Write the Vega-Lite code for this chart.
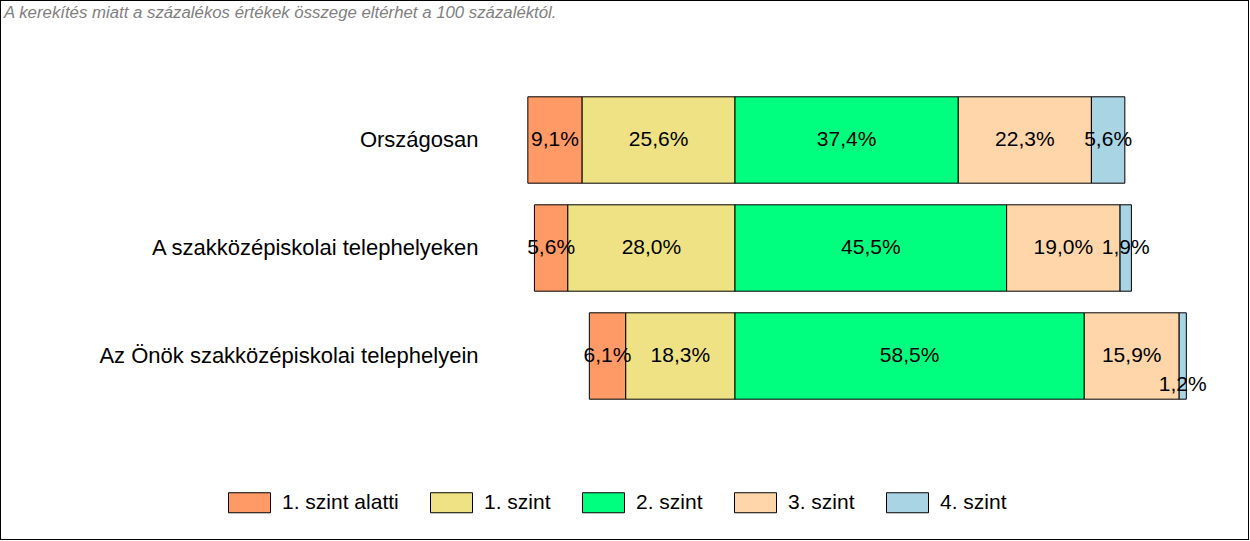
{
  "$schema": "https://vega.github.io/schema/vega-lite/v6.json",
  "width": 1249,
  "height": 540,
  "autosize": "none",
  "padding": 0,
  "background": "white",
  "config": {
    "font": "Liberation Sans",
    "view": {"stroke": "black", "strokeWidth": 2}
  },
  "title": {
    "text": "A kerekítés miatt a  százalékos értékek összege eltérhet a 100 százaléktól.",
    "orient": "top",
    "anchor": "start",
    "frame": "group",
    "offset": 0,
    "dx": 4,
    "dy": 22,
    "fontSize": 16.8,
    "fontStyle": "italic",
    "fontWeight": "normal",
    "color": "#808080",
    "font": "Liberation Sans"
  },
  "data": {
    "values": [
      {"group": "Országosan", "szint": "1. szint alatti", "value": 9.1},
      {"group": "Országosan", "szint": "1. szint", "value": 25.6},
      {"group": "Országosan", "szint": "2. szint", "value": 37.4},
      {"group": "Országosan", "szint": "3. szint", "value": 22.3},
      {"group": "Országosan", "szint": "4. szint", "value": 5.6},
      {"group": "A szakközépiskolai telephelyeken", "szint": "1. szint alatti", "value": 5.6},
      {"group": "A szakközépiskolai telephelyeken", "szint": "1. szint", "value": 28.0},
      {"group": "A szakközépiskolai telephelyeken", "szint": "2. szint", "value": 45.5},
      {"group": "A szakközépiskolai telephelyeken", "szint": "3. szint", "value": 19.0},
      {"group": "A szakközépiskolai telephelyeken", "szint": "4. szint", "value": 1.9},
      {"group": "Az Önök szakközépiskolai telephelyein", "szint": "1. szint alatti", "value": 6.1},
      {"group": "Az Önök szakközépiskolai telephelyein", "szint": "1. szint", "value": 18.3},
      {"group": "Az Önök szakközépiskolai telephelyein", "szint": "2. szint", "value": 58.5},
      {"group": "Az Önök szakközépiskolai telephelyein", "szint": "3. szint", "value": 15.9},
      {"group": "Az Önök szakközépiskolai telephelyein", "szint": "4. szint", "value": 1.2}
    ]
  },
  "transform": [
    {"calculate": "indexof(['1. szint','1. szint alatti','2. szint','3. szint','4. szint'], datum.szint)", "as": "ord"},
    {"calculate": "(datum.szint === '1. szint alatti' || datum.szint === '1. szint') ? -datum.value : datum.value", "as": "signed"},
    {"stack": "signed", "groupby": ["group"], "sort": [{"field": "ord", "order": "ascending"}], "as": ["x0", "x1"]},
    {"calculate": "(datum.x0 + datum.x1) / 2", "as": "mid"},
    {"calculate": "replace(format(datum.value, '.1f'), '.', ',') + '%'", "as": "label"}
  ],
  "encoding": {
    "y": {
      "field": "group",
      "type": "nominal",
      "sort": ["Országosan", "A szakközépiskolai telephelyeken", "Az Önök szakközépiskolai telephelyein"],
      "scale": {"range": [86, 410], "paddingInner": 0.2, "paddingOuter": 0.1},
      "axis": {
        "orient": "left",
        "offset": -478,
        "title": null,
        "domain": false,
        "ticks": false,
        "tickSize": 0,
        "labelPadding": 0,
        "labelFontSize": 22,
        "labelColor": "black",
        "labelLimit": 600,
        "labelFont": "Liberation Sans",
        "grid": false
      }
    }
  },
  "layer": [
    {
      "mark": {"type": "bar", "stroke": "black", "strokeWidth": 1},
      "encoding": {
        "x": {"field": "x0", "type": "quantitative", "scale": {"domain": [-123.116, 86.097], "nice": false, "zero": false}, "axis": null},
        "x2": {"field": "x1"},
        "color": {
          "field": "szint",
          "type": "nominal",
          "scale": {
            "domain": ["1. szint alatti", "1. szint", "2. szint", "3. szint", "4. szint"],
            "range": ["#FF9966", "#EEE285", "#00FF7F", "#FFD6AA", "#A8D4E4"]
          },
          "legend": {
            "title": null,
            "orient": "none",
            "direction": "horizontal",
            "legendX": 229,
            "legendY": 482,
            "padding": 0,
            "columnPadding": 29,
            "symbolType": "M-1.05,-0.5H1.05V0.5H-1.05Z",
            "symbolSize": 1600,
            "symbolStrokeColor": "black",
            "symbolStrokeWidth": 1,
            "symbolOpacity": 1,
            "labelOffset": 12,
            "labelFontSize": 21,
            "labelColor": "black",
            "labelFont": "Liberation Sans",
            "labelLimit": 300
          }
        }
      }
    },
    {
      "transform": [{"filter": "!(datum.group === 'Az Önök szakközépiskolai telephelyein' && datum.szint === '4. szint')"}],
      "mark": {"type": "text", "fontSize": 21, "color": "black", "baseline": "middle", "align": "center", "font": "Liberation Sans"},
      "encoding": {
        "x": {"field": "mid", "type": "quantitative"},
        "text": {"field": "label"}
      }
    },
    {
      "transform": [{"filter": "datum.group === 'Az Önök szakközépiskolai telephelyein' && datum.szint === '4. szint'"}],
      "mark": {"type": "text", "fontSize": 21, "color": "black", "baseline": "middle", "align": "center", "dy": 29, "font": "Liberation Sans"},
      "encoding": {
        "x": {"field": "mid", "type": "quantitative"},
        "text": {"field": "label"}
      }
    }
  ]
}
